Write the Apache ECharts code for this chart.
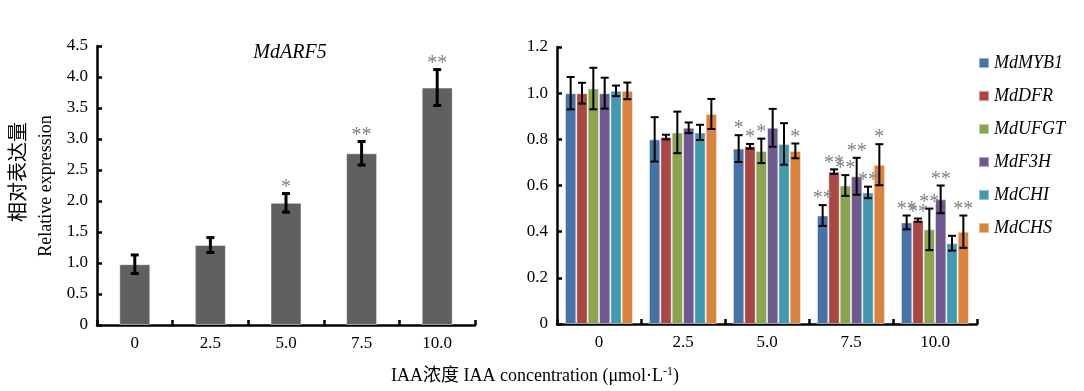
<!DOCTYPE html>
<html>
<head>
<meta charset="utf-8">
<script src="https://cdn.jsdelivr.net/npm/echarts@6/dist/echarts.min.js"></script>
<style>
html,body{margin:0;padding:0;background:#fff;}
#chart{width:1084px;height:391px;}
</style>
</head>
<body>
<div id="chart"></div>
<script>
// ---------- data ----------
const categories = ['0', '2.5', '5.0', '7.5', '10.0'];

// Left panel: MdARF5
const arf5Mean = [0.98, 1.29, 1.97, 2.77, 3.83];
const arf5Err  = [0.15, 0.12, 0.15, 0.19, 0.29];
const arf5Sig  = ['', '', '*', '**', '**'];

// Right panel: anthocyanin genes
const genes = ['MdMYB1', 'MdDFR', 'MdUFGT', 'MdF3H', 'MdCHI', 'MdCHS'];
const myb1Mean = [1.00, 0.80, 0.76, 0.47, 0.44];
const myb1Err  = [0.070, 0.096, 0.058, 0.045, 0.030];
const myb1Sig  = ['', '', '*', '**', '**'];
const dfrMean  = [1.00, 0.81, 0.77, 0.66, 0.45];
const dfrErr   = [0.045, 0.010, 0.010, 0.010, 0.007];
const dfrSig   = ['', '', '*', '**', '**'];
const ufgtMean = [1.02, 0.83, 0.75, 0.60, 0.41];
const ufgtErr  = [0.090, 0.090, 0.053, 0.045, 0.090];
const ufgtSig  = ['', '', '*', '**', '**'];
const f3hMean  = [1.00, 0.85, 0.85, 0.64, 0.54];
const f3hErr   = [0.067, 0.023, 0.082, 0.080, 0.060];
const f3hSig   = ['', '', '', '**', '**'];
const chiMean  = [1.01, 0.83, 0.78, 0.57, 0.35];
const chiErr   = [0.023, 0.033, 0.090, 0.025, 0.032];
const chiSig   = ['', '', '', '**', ''];
const chsMean  = [1.01, 0.91, 0.75, 0.69, 0.40];
const chsErr   = [0.036, 0.065, 0.032, 0.089, 0.070];
const chsSig   = ['', '', '*', '*', '**'];

const leftTicks = { min: 0, max: 4.5, interval: 0.5 };
const rightTicks = { min: 0, max: 1.2, interval: 0.2 };

// ---------- styling ----------
const geneColors = ['#4572A7', '#AA4643', '#89A54E', '#71588F', '#4198AF', '#DB843D'];
const serif = "'Liberation Serif', 'Times New Roman', 'Noto Sans CJK SC', serif";
const geneMeans = [myb1Mean, dfrMean, ufgtMean, f3hMean, chiMean, chsMean];
const geneErrs = [myb1Err, dfrErr, ufgtErr, f3hErr, chiErr, chsErr];
const geneSigs = [myb1Sig, dfrSig, ufgtSig, f3hSig, chiSig, chsSig];
const rightCatGap = 0.19;

function fmt(v) { return v === 0 ? '0' : v.toFixed(1); }

function errRenderer(idx, n, gapRatio, sigs, lw, capHalf) {
  return function (params, api) {
    const x = api.value(0), m = api.value(1), e = api.value(2);
    const c = api.coord([x, m]);
    const band = api.size([1, 0])[0];
    let cx = c[0];
    if (n > 1) {
      const bw = band * (1 - gapRatio) / n;
      cx = c[0] + (idx - (n - 1) / 2) * bw;
    }
    const top = api.coord([x, m + e])[1];
    const bot = api.coord([x, m - e])[1];
    const st = { stroke: '#000', lineWidth: lw };
    const children = [
      { type: 'line', shape: { x1: cx, y1: top, x2: cx, y2: bot }, style: st },
      { type: 'line', shape: { x1: cx - capHalf, y1: top, x2: cx + capHalf, y2: top }, style: st },
      { type: 'line', shape: { x1: cx - capHalf, y1: bot, x2: cx + capHalf, y2: bot }, style: st }
    ];
    const s = sigs[params.dataIndex];
    if (s) {
      children.push({
        type: 'text',
        x: cx, y: top + 4,
        style: { text: s, fill: '#7f7f7f', font: '20px ' + serif, align: 'center', verticalAlign: 'bottom' }
      });
    }
    return { type: 'group', children: children };
  };
}

const axisLine = { show: true, lineStyle: { color: '#000', width: 2.5 } };
const axisTick = { show: true, inside: true, length: 5, lineStyle: { color: '#000', width: 2.5 } };
const labelStyle = { color: '#000', fontFamily: serif, fontSize: 17 };

const series = [];
// left bars
series.push({
  type: 'bar', xAxisIndex: 0, yAxisIndex: 0,
  data: arf5Mean, barWidth: 31,
  itemStyle: { color: '#606060', borderColor: 'rgba(255,255,255,0.45)', borderWidth: 1 },
  silent: true, z: 2
});
series.push({
  type: 'custom', xAxisIndex: 0, yAxisIndex: 0,
  renderItem: errRenderer(0, 1, 0, arf5Sig, 3, 4),
  data: arf5Mean.map((m, i) => [i, m, arf5Err[i]]),
  encode: { x: 0, y: 1 }, z: 5, silent: true
});
// right bars
genes.forEach((g, k) => {
  series.push({
    name: g, type: 'bar', xAxisIndex: 1, yAxisIndex: 1,
    data: geneMeans[k], barGap: '0%', barCategoryGap: (rightCatGap * 100) + '%',
    itemStyle: { color: geneColors[k], borderColor: 'rgba(255,255,255,0.45)', borderWidth: 1 },
    silent: true, z: 2
  });
});
genes.forEach((g, k) => {
  series.push({
    type: 'custom', xAxisIndex: 1, yAxisIndex: 1,
    renderItem: errRenderer(k, genes.length, rightCatGap, geneSigs[k], 2, 4),
    data: geneMeans[k].map((m, i) => [i, m, geneErrs[k][i]]),
    encode: { x: 0, y: 1 }, z: 5, silent: true
  });
});

const option = {
  animation: false,
  backgroundColor: '#fff',
  grid: [
    { left: 97, top: 46, width: 378, height: 279, containLabel: false },
    { left: 557, top: 47, width: 420, height: 277, containLabel: false }
  ],
  legend: {
    data: genes, orient: 'vertical', left: 973, top: 49,
    itemWidth: 10, itemHeight: 10, itemGap: 15, icon: 'rect',
    textStyle: { fontFamily: serif, fontStyle: 'italic', fontSize: 18, color: '#000' },
    selectedMode: false
  },
  xAxis: [
    { type: 'category', gridIndex: 0, data: categories, boundaryGap: true,
      axisLine: axisLine, axisTick: Object.assign({}, axisTick, { alignWithLabel: false }),
      axisLabel: Object.assign({}, labelStyle, { margin: 10 }), splitLine: { show: false } },
    { type: 'category', gridIndex: 1, data: categories, boundaryGap: true,
      axisLine: axisLine, axisTick: Object.assign({}, axisTick, { alignWithLabel: false }),
      axisLabel: Object.assign({}, labelStyle, { margin: 10 }), splitLine: { show: false } }
  ],
  yAxis: [
    { type: 'value', gridIndex: 0, min: leftTicks.min, max: leftTicks.max, interval: leftTicks.interval,
      axisLine: axisLine, axisTick: axisTick, splitLine: { show: false },
      axisLabel: Object.assign({}, labelStyle, { margin: 9, formatter: fmt }) },
    { type: 'value', gridIndex: 1, min: rightTicks.min, max: rightTicks.max, interval: rightTicks.interval,
      axisLine: axisLine, axisTick: axisTick, splitLine: { show: false },
      axisLabel: Object.assign({}, labelStyle, { margin: 9, formatter: fmt }) }
  ],
  graphic: [
    { type: 'text', x: 290, y: 53, style: { text: 'MdARF5', font: 'italic 20px ' + serif, fill: '#000', align: 'center', verticalAlign: 'middle' } },
    { type: 'text', x: 20, y: 172, rotation: Math.PI / 2, style: { text: '相对表达量', font: '20px ' + serif, fill: '#000', align: 'center', verticalAlign: 'middle' } },
    { type: 'text', x: 46, y: 186, rotation: Math.PI / 2, style: { text: 'Relative expression', font: '18px ' + serif, fill: '#000', align: 'center', verticalAlign: 'middle' } },
    { type: 'text', x: 535, y: 376, style: {
        text: '{a|IAA浓度 IAA concentration (μmol·L}{s|-1}{a|)}',
        align: 'center', verticalAlign: 'middle',
        rich: {
          a: { font: '18px ' + serif, fill: '#000', color: '#000' },
          s: { font: '12px ' + serif, fill: '#000', color: '#000', verticalAlign: 'top', padding: [0, 0, 8, 0] }
        }
      } }
  ],
  series: series
};

const chart = echarts.init(document.getElementById('chart'), null, { renderer: 'canvas' });
chart.setOption(option);
</script>
</body>
</html>
